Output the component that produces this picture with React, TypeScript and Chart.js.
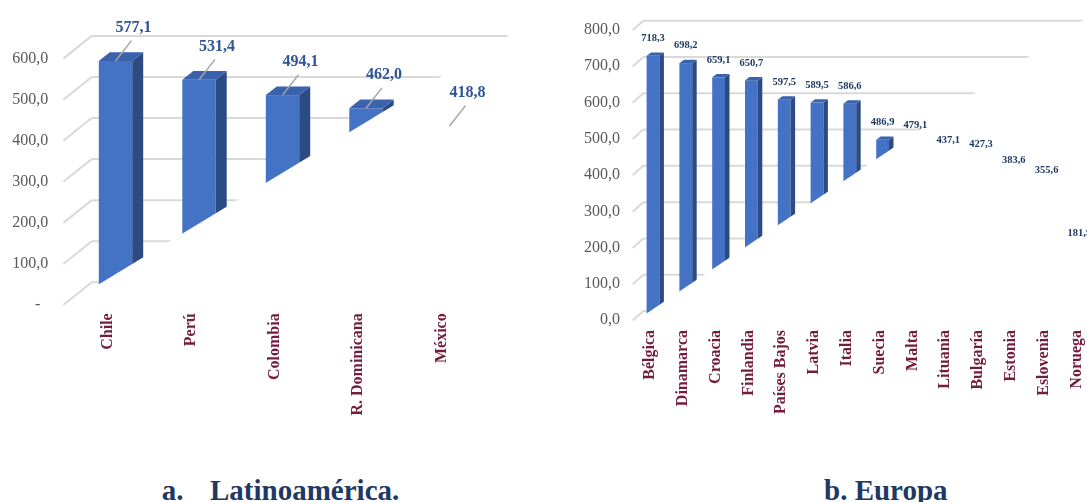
import React, { useEffect, useRef } from 'react';
import { Chart, registerables } from 'chart.js';

Chart.register(...registerables);

// ---------- data ----------
const latamCategories = ['Chile', 'Perú', 'Colombia', 'R. Dominicana', 'México'];
const latamValues = [577.1, 531.4, 494.1, 462.0, 418.8];
const latamTicks = [0, 100, 200, 300, 400, 500, 600];

const europeCategories = [
  'Bélgica', 'Dinamarca', 'Croacia', 'Finlandia', 'Países Bajos', 'Latvia', 'Italia',
  'Suecia', 'Malta', 'Lituania', 'Bulgaría', 'Estonia', 'Eslovenia', 'Noruega',
];
const europeValues = [718.3, 698.2, 659.1, 650.7, 597.5, 589.5, 586.6, 486.9, 479.1, 437.1, 427.3, 383.6, 355.6, 181.9];
const europeTicks = [0, 100, 200, 300, 400, 500, 600, 700, 800];

const latamTitleLetter = 'a.';
const latamTitle = 'Latinoamérica.';
const europeTitle = 'b. Europa';

// ---------- styles ----------
const SERIF = "'Liberation Serif', 'Times New Roman', Times, serif";
const fmt = (v: number) => v.toFixed(1).replace('.', ',');

interface Look {
  left: number; width: number; height: number;
  areaLeft: number; areaRight: number; areaTop: number; areaBottom: number;
  yMax: number; barPct: number;
  yTickPadding: number; yLabelOffset: number;
  xTickPadding: number; xLabelOffset: number;
  floorDy: number; floorSlope: number;
  depthX: number; depthY: number;
  diagX0: number; diagY0: number; diagX1: number; backDy: number; gridRight: number;
  valueFont: string; valueColor: string;
  labelDx: number; labelDy: number; leader: boolean;
  tickLabel: (v: number) => string;
}

const latamLook: Look = {
  left: 0, width: 540, height: 460,
  areaLeft: 73.75, areaRight: 491.25, areaTop: 51.6, areaBottom: 298,
  yMax: 600, barPct: 0.4,
  yTickPadding: 25.4, yLabelOffset: 7,
  xTickPadding: 15.3, xLabelOffset: -8,
  floorDy: 1.4, floorSlope: 0.6066,
  depthX: 11, depthY: 8.7,
  diagX0: -10.45, diagY0: 7, diagX1: 17.95, backDy: -15.7, gridRight: 17,
  valueFont: `bold 16px ${SERIF}`, valueColor: '#2F5597',
  labelDx: 18, labelDy: -33.4, leader: true,
  tickLabel: (v) => (v === 0 ? '-  ' : fmt(v)),
};

const europeLook: Look = {
  left: 540, width: 580, height: 460,
  areaLeft: 96.6, areaRight: 555.8, areaTop: 17.1, areaBottom: 316.5,
  yMax: 800, barPct: 0.39,
  yTickPadding: 16.6, yLabelOffset: 3.7,
  xTickPadding: 13.5, xLabelOffset: -3,
  floorDy: 3.6, floorSlope: 0.6716,
  depthX: 4.5, depthY: 3.4,
  diagX0: -3.9, diagY0: 4, diagX1: 6.7, backDy: -5.5, gridRight: 30,
  valueFont: `bold 10.5px ${SERIF}`, valueColor: '#1F3864',
  labelDx: 0, labelDy: -17.5, leader: false,
  tickLabel: (v) => fmt(v),
};

const FRONT = '#4472C4';
const TOP = '#3A62AD';
const SIDE = '#2C4B82';
const GRID = '#D9D9D9';
const LEADER = '#A6A6A6';
const CAT_COLOR = '#731C3D';
const TICK_COLOR = '#595959';
const TITLE_COLOR = '#1F3864';

function makePlugin(look: Look) {
  const floorY = (chart: any, x: number) => {
    const a = chart.chartArea;
    return a.bottom + look.floorDy - look.floorSlope * (x - a.left);
  };
  const clipAboveFloor = (chart: any) => {
    const ctx = chart.ctx as CanvasRenderingContext2D;
    const W = chart.width;
    ctx.beginPath();
    ctx.moveTo(-20, floorY(chart, -20));
    ctx.lineTo(W + 20, floorY(chart, W + 20));
    ctx.lineTo(W + 20, -3000);
    ctx.lineTo(-20, -3000);
    ctx.closePath();
    ctx.clip();
  };
  return {
    id: 'threeD',
    beforeDatasetsDraw(chart: any) {
      const ctx = chart.ctx as CanvasRenderingContext2D;
      const a = chart.chartArea;
      const yS = chart.scales.y;
      ctx.save();
      ctx.strokeStyle = GRID;
      ctx.lineWidth = 2;
      yS.ticks.forEach((t: any) => {
        const f = yS.getPixelForValue(t.value);
        ctx.beginPath();
        ctx.moveTo(a.left + look.diagX0, f + look.diagY0);
        ctx.lineTo(a.left + look.diagX1, f + look.backDy);
        ctx.stroke();
      });
      ctx.save();
      clipAboveFloor(chart);
      yS.ticks.forEach((t: any) => {
        const f = yS.getPixelForValue(t.value);
        ctx.beginPath();
        ctx.moveTo(a.left + look.diagX1, f + look.backDy);
        ctx.lineTo(a.right + look.gridRight, f + look.backDy);
        ctx.stroke();
      });
      ctx.restore();
      ctx.restore();
    },
    afterDatasetsDraw(chart: any) {
      const ctx = chart.ctx as CanvasRenderingContext2D;
      const a = chart.chartArea;
      const meta = chart.getDatasetMeta(0);
      const values = chart.data.datasets[0].data as number[];
      const dx = look.depthX;
      const dy = look.depthY;
      const deep = a.bottom + 200;
      ctx.save();
      clipAboveFloor(chart);
      meta.data.forEach((el: any) => {
        const { x, y, width } = el.getProps(['x', 'y', 'width'], true);
        const l = x - width / 2;
        const r = x + width / 2;
        ctx.fillStyle = FRONT;
        ctx.fillRect(l, y, width, deep - y);
        ctx.fillStyle = SIDE;
        ctx.beginPath();
        ctx.moveTo(r, y);
        ctx.lineTo(r + dx, y - dy);
        ctx.lineTo(r + dx, deep);
        ctx.lineTo(r, deep);
        ctx.closePath();
        ctx.fill();
        ctx.fillStyle = TOP;
        ctx.beginPath();
        ctx.moveTo(l, y);
        ctx.lineTo(r, y);
        ctx.lineTo(r + dx, y - dy);
        ctx.lineTo(l + dx, y - dy);
        ctx.closePath();
        ctx.fill();
      });
      ctx.restore();

      ctx.save();
      meta.data.forEach((el: any, i: number) => {
        const { x, y } = el.getProps(['x', 'y'], true);
        const lx = x + look.labelDx;
        const ly = y + look.labelDy;
        if (look.leader) {
          ctx.strokeStyle = LEADER;
          ctx.lineWidth = 1.5;
          ctx.beginPath();
          ctx.moveTo(x, y);
          ctx.lineTo(lx - 2, ly + 13);
          ctx.stroke();
        }
        ctx.fillStyle = look.valueColor;
        ctx.font = look.valueFont;
        ctx.textAlign = 'center';
        ctx.textBaseline = 'middle';
        ctx.fillText(fmt(values[i]), lx, ly);
      });
      ctx.restore();
    },
  };
}

function Bar3D({ categories, values, ticks, look }: { categories: string[]; values: number[]; ticks: number[]; look: Look }) {
  const ref = useRef<HTMLCanvasElement | null>(null);
  useEffect(() => {
    if (!ref.current) return;
    const chart = new Chart(ref.current, {
      type: 'bar',
      data: {
        labels: categories,
        datasets: [{
          data: values,
          backgroundColor: 'rgba(0,0,0,0)',
          borderWidth: 0,
          barPercentage: look.barPct,
          categoryPercentage: 1,
        }],
      },
      options: {
        responsive: false,
        animation: false,
        devicePixelRatio: 1,
        layout: { padding: { top: look.areaTop, right: look.width - look.areaRight, bottom: 0, left: 0 } },
        plugins: { legend: { display: false }, tooltip: { enabled: false }, title: { display: false } },
        events: [],
        scales: {
          x: {
            type: 'category',
            offset: true,
            grid: { display: false, drawTicks: false },
            border: { display: false },
            ticks: {
              autoSkip: false,
              minRotation: 90,
              maxRotation: 90,
              padding: look.xTickPadding,
              labelOffset: look.xLabelOffset,
              color: CAT_COLOR,
              font: { family: SERIF, size: 16, weight: 'bold' },
            },
            afterFit: (s: any) => { s.height = look.height - look.areaBottom; },
          },
          y: {
            min: 0,
            max: look.yMax,
            grid: { display: false, drawTicks: false },
            border: { display: false },
            ticks: {
              padding: look.yTickPadding,
              labelOffset: look.yLabelOffset,
              color: TICK_COLOR,
              font: { family: SERIF, size: 16 },
              callback: (v: any) => look.tickLabel(Number(v)),
            },
            afterBuildTicks: (s: any) => { s.ticks = ticks.map((v) => ({ value: v })); },
            afterFit: (s: any) => { s.width = look.areaLeft; },
          },
        },
      } as any,
      plugins: [makePlugin(look)],
    });
    return () => chart.destroy();
  }, []);
  return (
    <canvas
      ref={ref}
      width={look.width}
      height={look.height}
      style={{ position: 'absolute', left: look.left, top: 0, width: look.width, height: look.height }}
    />
  );
}

export default function App() {
  const titleStyle: React.CSSProperties = {
    position: 'absolute',
    top: 475.7,
    fontFamily: SERIF,
    fontWeight: 'bold',
    fontSize: 29,
    lineHeight: '29px',
    color: TITLE_COLOR,
    whiteSpace: 'pre',
  };
  return (
    <div style={{ position: 'absolute', left: 0, top: 0, width: 1087, height: 502, overflow: 'hidden', background: '#fff' }}>
      <Bar3D categories={latamCategories} values={latamValues} ticks={latamTicks} look={latamLook} />
      <Bar3D categories={europeCategories} values={europeValues} ticks={europeTicks} look={europeLook} />
      <div style={{ ...titleStyle, left: 161.7 }}>
        <span>{latamTitleLetter}</span>
        <span style={{ marginLeft: 26.6 }}>{latamTitle}</span>
      </div>
      <div style={{ ...titleStyle, left: 824 }}>{europeTitle}</div>
    </div>
  );
}
